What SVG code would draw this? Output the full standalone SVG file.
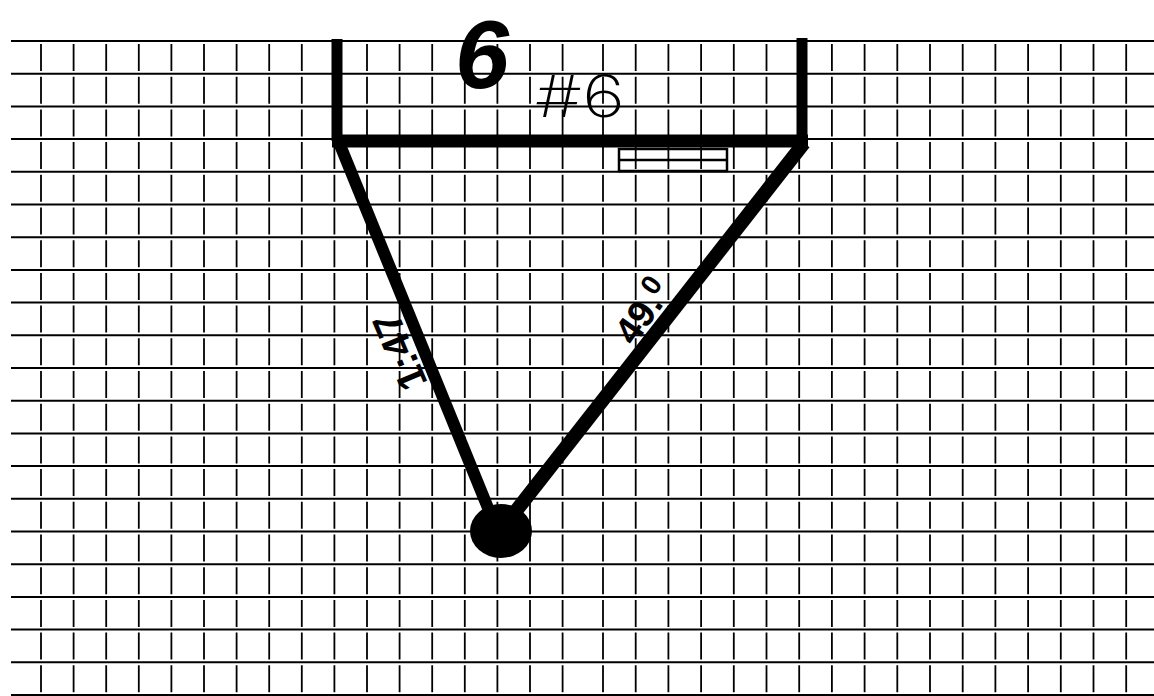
<svg xmlns="http://www.w3.org/2000/svg" width="1154" height="696" viewBox="0 0 1154 696">
  <style>
    .h { stroke: #000; stroke-width: 2; }
    .v { stroke: #000; stroke-width: 1.8; stroke-dasharray: 27 5.7; }
    .thick { stroke: #000; stroke-linecap: butt; fill: none; }
    .hand { font-family: "Liberation Sans", Arial, sans-serif; fill: #000; }
  </style>
  <rect width="1154" height="696" fill="#fff"/>
  <g id="grid">
    <g id="grid-h">
      <line class="h" x1="11" y1="41" x2="1154" y2="41"/>
      <line class="h" x1="11" y1="73.7" x2="1154" y2="73.7"/>
      <line class="h" x1="11" y1="106.4" x2="1154" y2="106.4"/>
      <line class="h" x1="11" y1="139.1" x2="1154" y2="139.1"/>
      <line class="h" x1="11" y1="171.8" x2="1154" y2="171.8"/>
      <line class="h" x1="11" y1="204.5" x2="1154" y2="204.5"/>
      <line class="h" x1="11" y1="237.2" x2="1154" y2="237.2"/>
      <line class="h" x1="11" y1="269.9" x2="1154" y2="269.9"/>
      <line class="h" x1="11" y1="302.6" x2="1154" y2="302.6"/>
      <line class="h" x1="11" y1="335.3" x2="1154" y2="335.3"/>
      <line class="h" x1="11" y1="368" x2="1154" y2="368"/>
      <line class="h" x1="11" y1="400.7" x2="1154" y2="400.7"/>
      <line class="h" x1="11" y1="433.4" x2="1154" y2="433.4"/>
      <line class="h" x1="11" y1="466.1" x2="1154" y2="466.1"/>
      <line class="h" x1="11" y1="498.8" x2="1154" y2="498.8"/>
      <line class="h" x1="11" y1="531.5" x2="1154" y2="531.5"/>
      <line class="h" x1="11" y1="564.2" x2="1154" y2="564.2"/>
      <line class="h" x1="11" y1="596.9" x2="1154" y2="596.9"/>
      <line class="h" x1="11" y1="629.6" x2="1154" y2="629.6"/>
      <line class="h" x1="11" y1="662.3" x2="1154" y2="662.3"/>
      <line class="h" x1="11" y1="695" x2="1154" y2="695"/>
    </g>
    <g id="grid-v">
      <line class="v" x1="41" y1="44" x2="41" y2="696"/>
      <line class="v" x1="73.6" y1="44" x2="73.6" y2="696"/>
      <line class="v" x1="106.2" y1="44" x2="106.2" y2="696"/>
      <line class="v" x1="138.8" y1="44" x2="138.8" y2="696"/>
      <line class="v" x1="171.4" y1="44" x2="171.4" y2="696"/>
      <line class="v" x1="204" y1="44" x2="204" y2="696"/>
      <line class="v" x1="236.6" y1="44" x2="236.6" y2="696"/>
      <line class="v" x1="269.2" y1="44" x2="269.2" y2="696"/>
      <line class="v" x1="301.8" y1="44" x2="301.8" y2="696"/>
      <line class="v" x1="334.4" y1="44" x2="334.4" y2="696"/>
      <line class="v" x1="367" y1="44" x2="367" y2="696"/>
      <line class="v" x1="399.6" y1="44" x2="399.6" y2="696"/>
      <line class="v" x1="432.2" y1="44" x2="432.2" y2="696"/>
      <line class="v" x1="464.8" y1="44" x2="464.8" y2="696"/>
      <line class="v" x1="497.4" y1="44" x2="497.4" y2="696"/>
      <line class="v" x1="530" y1="44" x2="530" y2="696"/>
      <line class="v" x1="562.6" y1="44" x2="562.6" y2="696"/>
      <line class="v" x1="603" y1="44" x2="603" y2="696"/>
      <line class="v" x1="635.7" y1="44" x2="635.7" y2="696"/>
      <line class="v" x1="668.4" y1="44" x2="668.4" y2="696"/>
      <line class="v" x1="701.1" y1="44" x2="701.1" y2="696"/>
      <line class="v" x1="733.8" y1="44" x2="733.8" y2="696"/>
      <line class="v" x1="766.5" y1="44" x2="766.5" y2="696"/>
      <line class="v" x1="799.2" y1="44" x2="799.2" y2="696"/>
      <line class="v" x1="831.9" y1="44" x2="831.9" y2="696"/>
      <line class="v" x1="864.6" y1="44" x2="864.6" y2="696"/>
      <line class="v" x1="897.3" y1="44" x2="897.3" y2="696"/>
      <line class="v" x1="930" y1="44" x2="930" y2="696"/>
      <line class="v" x1="962.7" y1="44" x2="962.7" y2="696"/>
      <line class="v" x1="995.4" y1="44" x2="995.4" y2="696"/>
      <line class="v" x1="1028.1" y1="44" x2="1028.1" y2="696"/>
      <line class="v" x1="1060.8" y1="44" x2="1060.8" y2="696"/>
      <line class="v" x1="1093.5" y1="44" x2="1093.5" y2="696"/>
      <line class="v" x1="1126.2" y1="44" x2="1126.2" y2="696"/>
    </g>
  </g>
  <g id="frame">
    <path class="thick" stroke-width="11" d="M337,39 V141"/>
    <path class="thick" stroke-width="11" d="M802,38 V143"/>
    <path class="thick" stroke-width="13" d="M332,141 H808"/>
  </g>
  <g id="small-box">
    <rect x="619" y="149" width="108" height="22" fill="none" stroke="#000" stroke-width="2.5"/>
    <line x1="619" y1="160" x2="727" y2="160" stroke="#000" stroke-width="2.5"/>
  </g>
  <g id="connectors">
    <path class="thick" stroke-width="12" d="M338,140 L497,530"/>
    <path class="thick" stroke-width="14" d="M804,143 L505,525"/>
  </g>
  <g id="dot">
    <ellipse cx="501" cy="531" rx="31" ry="27" fill="#000"/>
  </g>
  <g id="labels">
    <text class="hand" x="455" y="88" font-size="97" font-weight="bold" font-style="italic">6</text>
    <text class="hand" x="535" y="117" font-size="58" font-weight="200" style="font-family: Inter, 'Liberation Sans', sans-serif" textLength="90" lengthAdjust="spacingAndGlyphs">#6</text>
    <text class="hand" x="0" y="0" font-size="40" font-weight="bold" transform="translate(428,383) rotate(-113)">1:47</text>
    <text class="hand" x="0" y="0" font-size="38" font-weight="bold" transform="translate(634,347) rotate(-55)">49.<tspan font-size="28" dy="-12">0</tspan></text>
  </g>
</svg>
